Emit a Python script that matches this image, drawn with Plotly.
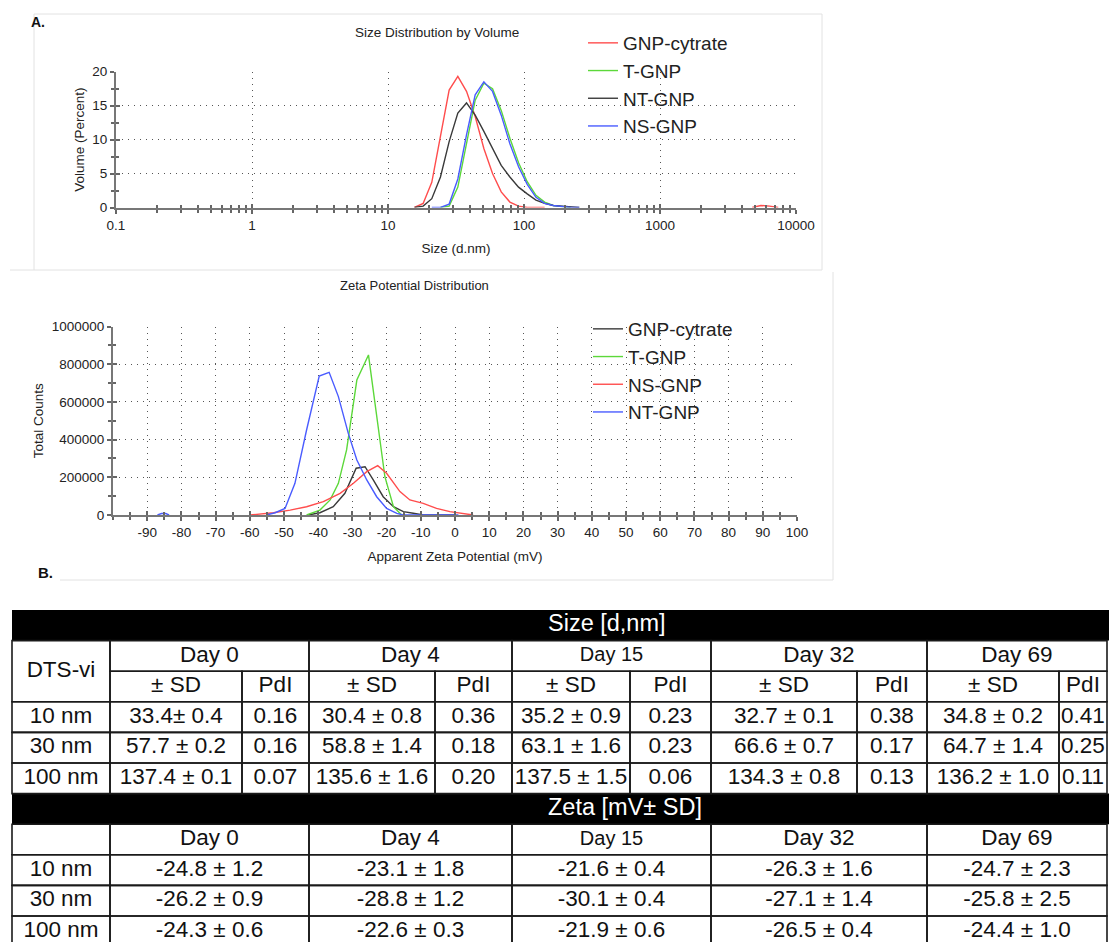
import plotly.graph_objects as go

W, H = 1109, 942
def px(x): return x / W
def py(y): return 1 - y / H

FONT = "Liberation Sans, Arial, sans-serif"

# ---------------- Panel A (top): size distribution by volume ----------------
size_nm = [15.65, 18.13, 20.99, 24.31, 28.16, 32.62, 37.78, 43.76, 50.68, 58.70,
           67.99, 78.75, 91.20, 105.6, 122.4, 141.8, 164.2, 190.1, 220.2, 255.0]
vol_gnp_cytrate = [0, 0.6, 3.7, 10.4, 17.3, 19.3, 17.1, 13.4, 8.7, 5.0,
                   2.3, 0.8, 0.2, 0, 0, 0, None, None, None, None]
vol_t_gnp = [None, None, None, 0, 0.2, 3.0, 9.5, 15.8, 18.3, 17.5,
             14.3, 10.2, 6.6, 3.8, 1.8, 0.8, 0.3, 0.1, 0, None]
vol_nt_gnp = [0, 0.2, 1.3, 4.5, 9.7, 13.9, 15.4, 13.6, 11.2, 8.7,
              6.2, 4.5, 3.0, 2.0, 1.1, 0.6, 0.3, 0.2, 0.1, 0]
vol_ns_gnp = [None, None, 0, 0, 0.5, 4.2, 10.7, 16.6, 18.5, 17.1,
              13.6, 9.4, 6.0, 3.4, 1.5, 0.6, 0.3, 0.1, 0, 0]
size_agg_nm = [4766, 5520, 6394, 7405]
vol_agg_gnp_cytrate = [0, 0.3, 0.2, 0]

size_ticks = [0.1, 1, 10, 100, 1000, 10000]
size_ticktext = ["0.1", "1", "10", "100", "1000", "10000"]
vol_ticks = [0, 5, 10, 15, 20]

# ---------------- Panel A (bottom): zeta potential distribution ----------------
zeta_cyt_mv = [-42.9, -39.5, -35.6, -32.2, -28.9, -26.3, -23.9, -21.0, -18.0, -15.1, -12.2, -9.3, 0]
cnt_cyt = [0, 12000, 44000, 115000, 248000, 256000, 186000, 97000, 44000, 18000, 9000, 0, 0]
zeta_t_mv = [-43.4, -39.5, -36.5, -34.1, -31.7, -28.7, -25.3, -22.9, -20.5, -18.0, -15.6]
cnt_t = [0, 26000, 80000, 168000, 345000, 716000, 849000, 521000, 203000, 44000, 0]
zeta_ns_mv = [-60.0, -53.1, -48.2, -43.4, -38.5, -33.6, -29.7, -25.8, -22.6, -20.0,
              -16.1, -13.2, -9.3, -5.4, -1.5, 2.4, 5.3]
cnt_ns = [0, 12000, 26000, 44000, 71000, 115000, 168000, 230000, 262000, 221000,
          124000, 80000, 62000, 35000, 18000, 9000, 0]
zeta_nt_mv = [-87.0, -85.8, -84.6, -83.6, None, -55.1, -52.6, -49.7, -46.8, -43.4, -39.7,
              -36.8, -34.1, -31.2, -28.7, -25.8, -22.9, -20.0, -17.0, -15.2, 1.0]
cnt_nt = [0, 8000, 8000, 0, None, 0, 12000, 35000, 168000, 451000, 737000,
          757000, 628000, 433000, 292000, 186000, 97000, 35000, 9000, 0, 0]

zeta_ticks = list(range(-90, 101, 10))
zeta_ticktext = [str(v) for v in zeta_ticks]
count_ticks = list(range(0, 1000001, 200000))

# ---------------- Panel B: table ----------------
days = ["Day 0", "Day 4", "Day 15", "Day 32", "Day 69"]
samples = ["10 nm", "30 nm", "100 nm"]
size_sd_text = [
    ["33.4± 0.4", "30.4 ± 0.8", "35.2 ± 0.9", "32.7 ± 0.1", "34.8 ± 0.2"],
    ["57.7 ± 0.2", "58.8 ± 1.4", "63.1 ± 1.6", "66.6 ± 0.7", "64.7 ± 1.4"],
    ["137.4 ± 0.1", "135.6 ± 1.6", "137.5 ± 1.5", "134.3 ± 0.8", "136.2 ± 1.0"],
]
pdi = [
    [0.16, 0.36, 0.23, 0.38, 0.41],
    [0.16, 0.18, 0.23, 0.17, 0.25],
    [0.07, 0.20, 0.06, 0.13, 0.11],
]
zeta_mean = [
    [-24.8, -23.1, -21.6, -26.3, -24.7],
    [-26.2, -28.8, -30.1, -27.1, -25.8],
    [-24.3, -22.6, -21.9, -26.5, -24.4],
]
zeta_sd = [
    [1.2, 1.8, 0.4, 1.6, 2.3],
    [0.9, 1.2, 0.4, 1.4, 2.5],
    [0.6, 0.3, 0.6, 0.4, 1.0],
]

RED, GREEN, BLACK, BLUE = "#ff4d4d", "#5cd83a", "#3a3a3a", "#4a5cff"

fig = go.Figure()

# top chart traces
fig.add_trace(go.Scatter(x=size_nm + [None] + size_agg_nm,
                         y=vol_gnp_cytrate + [None] + vol_agg_gnp_cytrate,
                         mode="lines", name="GNP-cytrate", line=dict(color=RED, width=1.4),
                         xaxis="x", yaxis="y", legend="legend"))
fig.add_trace(go.Scatter(x=size_nm, y=vol_t_gnp, mode="lines", name="T-GNP",
                         line=dict(color=GREEN, width=1.4), xaxis="x", yaxis="y", legend="legend"))
fig.add_trace(go.Scatter(x=size_nm, y=vol_nt_gnp, mode="lines", name="NT-GNP",
                         line=dict(color=BLACK, width=1.4), xaxis="x", yaxis="y", legend="legend"))
fig.add_trace(go.Scatter(x=size_nm, y=vol_ns_gnp, mode="lines", name="NS-GNP",
                         line=dict(color=BLUE, width=1.4), xaxis="x", yaxis="y", legend="legend"))

# bottom chart traces
fig.add_trace(go.Scatter(x=zeta_cyt_mv, y=cnt_cyt, mode="lines", name="GNP-cytrate",
                         line=dict(color=BLACK, width=1.4), xaxis="x2", yaxis="y2", legend="legend2"))
fig.add_trace(go.Scatter(x=zeta_t_mv, y=cnt_t, mode="lines", name="T-GNP",
                         line=dict(color=GREEN, width=1.4), xaxis="x2", yaxis="y2", legend="legend2"))
fig.add_trace(go.Scatter(x=zeta_ns_mv, y=cnt_ns, mode="lines", name="NS-GNP",
                         line=dict(color=RED, width=1.4), xaxis="x2", yaxis="y2", legend="legend2"))
fig.add_trace(go.Scatter(x=zeta_nt_mv, y=cnt_nt, mode="lines", name="NT-GNP",
                         line=dict(color=BLUE, width=1.4), xaxis="x2", yaxis="y2", legend="legend2"))

# empty traces so the tick-crossing overlay axes get their subplots
fig.add_trace(go.Scatter(x=[], y=[], xaxis="x4", yaxis="y4", showlegend=False, hoverinfo="skip"))
fig.add_trace(go.Scatter(x=[], y=[], xaxis="x5", yaxis="y5", showlegend=False, hoverinfo="skip"))

# ---------------- table drawing on its own axes ----------------
TX = [12, 110, 242, 309, 435, 512, 630, 711, 857, 927, 1059, 1107]
TY = [610 + 30.6 * i for i in range(12)]
TFS = 22.5
shapes = []
tx, ty, tt, ts = [], [], [], []

def cell(x0, x1, y0, y1, text=None, size=TFS):
    shapes.append(dict(type="rect", xref="x3", yref="y3", x0=x0, x1=x1, y0=y0, y1=y1,
                       line=dict(color="#1a1a1a", width=1.6), fillcolor="rgba(0,0,0,0)"))
    if text is not None:
        tx.append((x0 + x1) / 2); ty.append((y0 + y1) / 2); tt.append(text); ts.append(size)

def bar(y0, y1):
    shapes.append(dict(type="rect", xref="x3", yref="y3", x0=TX[0], x1=W, y0=y0, y1=y1,
                       line=dict(width=0), fillcolor="#000000", layer="below"))

bar(TY[0], TY[1])
bar(TY[6], TY[7])
cell(TX[0], TX[1], TY[1], TY[3], "DTS-vi")
for d, day in enumerate(days):
    xa, xm, xb = TX[1 + 2 * d], TX[2 + 2 * d], TX[3 + 2 * d]
    fs = 20 if day == "Day 15" else TFS
    cell(xa, xb, TY[1], TY[2], day, fs)
    cell(xa, xm, TY[2], TY[3], "± SD")
    cell(xm, xb, TY[2], TY[3], "PdI")
    for r in range(3):
        cell(xa, xm, TY[3 + r], TY[4 + r], size_sd_text[r][d])
        cell(xm, xb, TY[3 + r], TY[4 + r], f"{pdi[r][d]:.2f}")
    cell(xa, xb, TY[7], TY[8], day, fs)
    for r in range(3):
        cell(xa, xb, TY[8 + r], TY[9 + r], f"{zeta_mean[r][d]:.1f} ± {zeta_sd[r][d]:.1f}")
for r, s in enumerate(samples):
    cell(TX[0], TX[1], TY[3 + r], TY[4 + r], s)
    cell(TX[0], TX[1], TY[8 + r], TY[9 + r], s)
cell(TX[0], TX[1], TY[7], TY[8])

fig.add_trace(go.Scatter(x=tx, y=ty, text=tt, mode="text", textposition="middle center",
                         textfont=dict(family=FONT, size=ts, color="#111"), cliponaxis=False,
                         showlegend=False, hoverinfo="skip", xaxis="x3", yaxis="y3"))
fig.add_trace(go.Scatter(x=[548, 548], y=[(TY[0] + TY[1]) / 2, (TY[6] + TY[7]) / 2],
                         text=["Size [d,nm]", "Zeta [mV± SD]"], mode="text",
                         textposition="middle right",
                         textfont=dict(family=FONT, size=23.5, color="#ffffff"), cliponaxis=False,
                         showlegend=False, hoverinfo="skip", xaxis="x3", yaxis="y3"))

# faint panel frames (screenshot borders)
FR = "#e2e2e2"
for (x0, y0, x1, y1) in [(34, 14, 822, 14), (822, 14, 822, 270), (10, 270, 822, 270),
                         (34, 14, 34, 270), (833, 272, 833, 580), (60, 580, 833, 580)]:
    shapes.append(dict(type="line", xref="paper", yref="paper", x0=px(x0), x1=px(x1),
                       y0=py(y0), y1=py(y1), line=dict(color=FR, width=1)))

GRID = dict(showgrid=True, gridcolor="#555555", griddash="1px,5px", gridwidth=1.2)
AX = dict(showline=True, linecolor="#777777", linewidth=2, zeroline=False, automargin=False,
          ticks="outside", ticklen=4, tickcolor="#666666", tickwidth=1.5,
          tickfont=dict(family=FONT, size=13.5, color="#222"))
INSIDE = dict(showline=False, showgrid=False, zeroline=False, showticklabels=False,
              automargin=False, ticks="inside", ticklen=4, tickcolor="#666666", tickwidth=1.5)
TF = dict(family=FONT, size=13.5, color="#222")

minor_log = [m * 10 ** e for e in range(-1, 4) for m in range(2, 10)]
MIN_IN = dict(ticks="inside", ticklen=3, tickcolor="#666", showgrid=False)
MIN_OUT = dict(ticks="outside", ticklen=3, tickcolor="#666", showgrid=False)

xd1, yd1 = [px(116), px(796)], [py(207.5), py(71.7)]
xd2, yd2 = [px(113), px(797)], [py(515), py(326.5)]

fig.update_layout(
    width=W, height=H, autosize=False,
    margin=dict(l=0, r=0, t=0, b=0, pad=0, autoexpand=False),
    paper_bgcolor="white", plot_bgcolor="rgba(0,0,0,0)",
    font=dict(family=FONT, color="#222"),
    xaxis=dict(domain=xd1, type="log", range=[-1, 4], anchor="y",
               tickvals=size_ticks, ticktext=size_ticktext,
               minor=dict(tickvals=minor_log, **MIN_OUT),
               title=dict(text="Size (d.nm)", font=TF, standoff=12),
               **GRID, **AX),
    yaxis=dict(domain=yd1, range=[0, 20], anchor="x",
               tickvals=vol_ticks,
               minor=dict(tickvals=[2.5, 7.5, 12.5, 17.5], **MIN_OUT),
               title=dict(text="Volume (Percent)", font=TF, standoff=5),
               **GRID, **AX),
    xaxis4=dict(domain=xd1, type="log", range=[-1, 4], anchor="y4", overlaying="x",
                tickvals=size_ticks, minor=dict(tickvals=minor_log, **MIN_IN), **INSIDE),
    yaxis4=dict(domain=yd1, range=[0, 20], anchor="x4", overlaying="y",
                tickvals=vol_ticks, minor=dict(tickvals=[2.5, 7.5, 12.5, 17.5], **MIN_IN), **INSIDE),
    xaxis2=dict(domain=xd2, range=[-100, 100], anchor="y2",
                tickvals=zeta_ticks, ticktext=zeta_ticktext,
                minor=dict(dtick=5, **MIN_OUT),
                title=dict(text="Apparent Zeta Potential (mV)", font=TF, standoff=12),
                **GRID, **AX),
    yaxis2=dict(domain=yd2, range=[0, 1000000], anchor="x2",
                tickvals=count_ticks, tickformat="d",
                minor=dict(dtick=100000, **MIN_OUT),
                title=dict(text="Total Counts", font=TF, standoff=5),
                **GRID, **AX),
    xaxis5=dict(domain=xd2, range=[-100, 100], anchor="y5", overlaying="x2",
                tickvals=[-100] + zeta_ticks, minor=dict(dtick=5, **MIN_IN), **INSIDE),
    yaxis5=dict(domain=yd2, range=[0, 1000000], anchor="x5", overlaying="y2",
                tickvals=count_ticks, minor=dict(dtick=100000, **MIN_IN), **INSIDE),
    xaxis3=dict(domain=[0, 1], range=[0, W], visible=False, anchor="y3", fixedrange=True),
    yaxis3=dict(domain=[0, py(600)], range=[H, 600], visible=False, anchor="x3", fixedrange=True),
    legend=dict(x=px(583), y=py(24), xanchor="left", yanchor="top", bgcolor="rgba(0,0,0,0)",
                font=dict(family=FONT, size=19, color="#222"), tracegroupgap=0),
    legend2=dict(x=px(588), y=py(310), xanchor="left", yanchor="top", bgcolor="rgba(0,0,0,0)",
                 font=dict(family=FONT, size=19, color="#222"), tracegroupgap=0),
    shapes=shapes,
    annotations=[
        dict(text="Size Distribution by Volume", x=px(437), y=py(33), xref="paper", yref="paper",
             xanchor="center", yanchor="middle",
             showarrow=False, font=dict(family=FONT, size=13.5, color="#222")),
        dict(text="Zeta Potential Distribution", x=px(414), y=py(285), xref="paper", yref="paper",
             xanchor="center", yanchor="middle",
             showarrow=False, font=dict(family=FONT, size=13, color="#222")),
        dict(text="<b>A.</b>", x=px(29), y=py(22), xref="paper", yref="paper",
             xanchor="left", yanchor="middle",
             showarrow=False, font=dict(family=FONT, size=14, color="#111")),
        dict(text="<b>B.</b>", x=px(36), y=py(572), xref="paper", yref="paper",
             xanchor="left", yanchor="middle",
             showarrow=False, font=dict(family=FONT, size=15, color="#111")),
    ],
)

fig.write_html("out.html",
               config={"displayModeBar": False, "responsive": False},
               post_script="document.body.style.margin='0';document.body.style.overflow='hidden';")
